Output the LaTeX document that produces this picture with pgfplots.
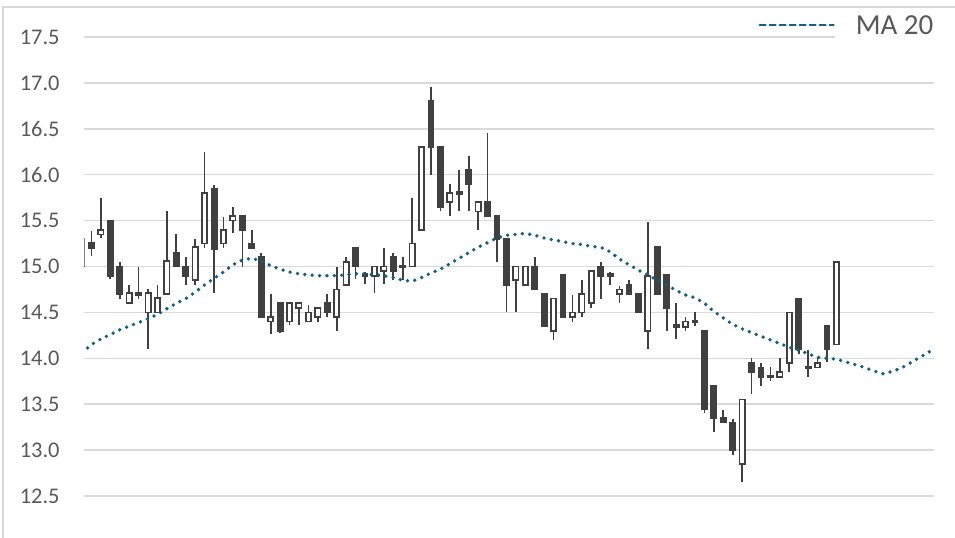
\documentclass[border=0pt]{standalone}
\usepackage{fontspec}
\setmainfont{Carlito}
\usepackage{pgfplots}
\usepackage{pgfplotstable}
\pgfplotsset{compat=1.18}
\usepgfplotslibrary{statistics}

\definecolor{cdark}{HTML}{404040}
\definecolor{mablue}{HTML}{156082}
\definecolor{gridgray}{HTML}{D9D9D9}
\definecolor{labgray}{HTML}{595959}

% k = bar number, lo/hi = wick, bb/bt = body bottom/top, dn = 1 for a falling day
\pgfplotstableread{
k lo bb bt hi dn
0 15.00 15.00 15.30 15.30 0
1 15.11 15.20 15.26 15.39 1
2 15.31 15.35 15.40 15.75 0
3 14.86 14.90 15.50 15.51 1
4 14.65 14.70 15.00 15.05 1
5 14.60 14.60 14.71 14.80 0
6 14.65 14.69 14.71 15.00 1
7 14.10 14.50 14.71 14.75 0
8 14.50 14.50 14.66 14.80 0
9 14.70 14.70 15.06 15.60 0
10 15.00 15.00 15.15 15.35 1
11 14.80 14.90 15.00 15.10 1
12 14.80 14.85 15.21 15.30 0
13 15.20 15.25 15.80 16.25 0
14 14.71 15.19 15.85 15.89 1
15 15.20 15.25 15.40 15.54 0
16 15.36 15.50 15.55 15.65 0
17 15.00 15.40 15.55 15.55 1
18 15.20 15.20 15.25 15.40 1
19 14.45 14.45 15.11 15.15 1
20 14.26 14.40 14.45 14.70 0
21 14.28 14.30 14.60 14.60 1
22 14.36 14.40 14.60 14.60 0
23 14.36 14.55 14.60 14.60 0
24 14.40 14.40 14.50 14.58 0
25 14.40 14.45 14.55 14.55 0
26 14.45 14.50 14.60 14.70 1
27 14.30 14.45 14.75 15.00 0
28 14.80 14.80 15.05 15.10 0
29 14.86 15.00 15.20 15.20 1
30 14.81 14.90 14.92 14.94 1
31 14.71 14.90 15.00 15.00 0
32 14.81 14.95 15.00 15.20 0
33 14.85 14.95 15.10 15.15 1
34 14.85 14.99 15.01 15.10 1
35 15.00 15.00 15.25 15.75 0
36 15.40 15.40 16.30 16.30 0
37 16.00 16.30 16.80 16.95 1
38 15.61 15.65 16.30 16.30 1
39 15.55 15.70 15.80 15.90 0
40 15.60 15.79 15.81 16.05 1
41 15.60 15.90 16.05 16.20 1
42 15.40 15.60 15.70 15.70 0
43 15.55 15.55 15.70 16.45 1
44 15.05 15.30 15.55 15.55 1
45 14.50 14.80 15.30 15.30 1
46 14.50 14.85 15.00 15.00 0
47 14.80 14.80 15.00 15.00 0
48 14.75 14.75 15.00 15.10 1
49 14.35 14.35 14.70 14.70 1
50 14.20 14.30 14.65 14.65 0
51 14.45 14.45 14.91 14.91 1
52 14.40 14.45 14.50 14.69 0
53 14.45 14.50 14.70 14.85 0
54 14.55 14.60 14.95 14.95 0
55 14.65 14.90 15.00 15.05 1
56 14.80 14.90 14.92 14.94 1
57 14.60 14.70 14.75 14.79 0
58 14.70 14.70 14.80 14.85 1
59 14.50 14.50 14.70 14.70 1
60 14.10 14.30 14.90 15.49 0
61 14.70 14.70 15.21 15.21 1
62 14.30 14.55 14.91 14.91 1
63 14.21 14.34 14.36 14.60 1
64 14.30 14.34 14.40 14.45 0
65 14.35 14.39 14.41 14.50 1
66 13.40 13.45 14.30 14.30 1
67 13.20 13.35 13.70 13.70 1
68 13.30 13.30 13.35 13.44 1
69 12.95 13.00 13.30 13.34 1
70 12.65 12.85 13.55 13.55 0
71 13.61 13.85 13.95 14.00 1
72 13.70 13.80 13.90 13.95 1
73 13.75 13.79 13.81 13.90 1
74 13.80 13.80 13.85 14.00 0
75 13.85 13.95 14.50 14.50 0
76 14.05 14.10 14.65 14.65 1
77 13.80 13.89 13.91 14.09 1
78 13.90 13.90 13.95 14.00 0
79 13.96 14.10 14.35 14.35 1
80 14.15 14.15 15.05 15.05 0
}\ohlc

\pgfplotstableread{
k ma
0 14.06
1 14.15
2 14.21
3 14.26
4 14.31
5 14.35
6 14.39
7 14.43
8 14.48
9 14.54
10 14.60
11 14.65
12 14.72
13 14.80
14 14.87
15 14.94
16 15.02
17 15.07
18 15.09
19 15.06
20 15.01
21 14.97
22 14.94
23 14.92
24 14.91
25 14.90
26 14.90
27 14.90
28 14.91
29 14.92
30 14.92
31 14.91
32 14.90
33 14.88
34 14.85
35 14.84
36 14.88
37 14.93
38 14.97
39 15.03
40 15.09
41 15.15
42 15.21
43 15.26
44 15.31
45 15.34
46 15.35
47 15.36
48 15.34
49 15.31
50 15.29
51 15.27
52 15.25
53 15.24
54 15.22
55 15.21
56 15.16
57 15.08
58 15.02
59 14.96
60 14.91
61 14.85
62 14.80
63 14.74
64 14.69
65 14.66
66 14.60
67 14.51
68 14.44
69 14.37
70 14.32
71 14.28
72 14.24
73 14.20
74 14.16
75 14.12
76 14.09
77 14.05
78 14.01
79 14.00
80 13.99
81 13.96
82 13.93
83 13.90
84 13.86
85 13.83
86 13.86
87 13.90
88 13.96
89 14.02
90 14.08
}\madata

\begin{document}
\begin{tikzpicture}
\useasboundingbox (-42.25pt,-20.5pt) rectangle (435.25pt,248pt);
\draw[gridgray, line width=0.6pt] (-40.75pt,-30pt) -- (-40.75pt,244.5pt) -- (445pt,244.5pt);
\begin{axis}[
    at={(0,0)}, anchor=south west,
    scale only axis,
    width=424.6pt, height=229.5pt,
    xmin=0.26, xmax=90.31,
    ymin=12.5, ymax=17.5,
    ytick={12.5,13,...,17.5},
    xtick=\empty,
    axis line style={draw=none},
    major tick length=0pt,
    ymajorgrids,
    grid style={line width=0.75pt, color=gridgray},
    /pgf/number format/assume math mode=true,
    yticklabel style={/pgf/number format/.cd, fixed, fixed zerofill, precision=1, /tikz/.cd,
        anchor=east, inner sep=0pt, xshift=-12.25pt, text=labgray,
        font=\fontsize{11.2}{13}\selectfont},
    candle/.style={draw=cdark, line width=0.85pt, forget plot,
        boxplot/draw direction=y,
        boxplot/box extend=0.55, boxplot/whisker extend=0},
    legend style={draw=none, fill=none, inner sep=0pt, column sep=0pt,
        at={(axis description cs:1,1)}, anchor=east, xshift=10.5pt, yshift=5pt,
        font=\fontsize{14.5}{17}\selectfont, text=labgray,
        nodes={fill=white, inner sep=0pt, inner xsep=10.5pt, inner ysep=3pt}},
    legend image code/.code={\draw[mablue, line width=1.1pt, dash pattern=on 3pt off 2pt]
        (-10.5pt,1pt) -- (26.5pt,1pt);},
]
\pgfplotsinvokeforeach{0,...,80}{
  \pgfplotstablegetelem{#1}{lo}\of\ohlc \let\vlo\pgfplotsretval
  \pgfplotstablegetelem{#1}{bb}\of\ohlc \let\vbb\pgfplotsretval
  \pgfplotstablegetelem{#1}{bt}\of\ohlc \let\vbt\pgfplotsretval
  \pgfplotstablegetelem{#1}{hi}\of\ohlc \let\vhi\pgfplotsretval
  \pgfplotstablegetelem{#1}{dn}\of\ohlc
  \ifnum\pgfplotsretval=1 \def\cfill{cdark}\else\def\cfill{white}\fi
  \edef\doit{\noexpand\addplot[candle, fill=\cfill,
      boxplot prepared={draw position=#1,
        lower whisker=\vlo, upper whisker=\vhi,
        lower quartile=\vbb, upper quartile=\vbt, median=\vbb}] coordinates {};}
  \doit
}
\addplot[mablue, line width=1.9pt, line cap=round, dash pattern=on 0pt off 3.7pt]
    table[x=k, y=ma] {\madata};
\addlegendentry{MA 20}
\end{axis}
\end{tikzpicture}
\end{document}
